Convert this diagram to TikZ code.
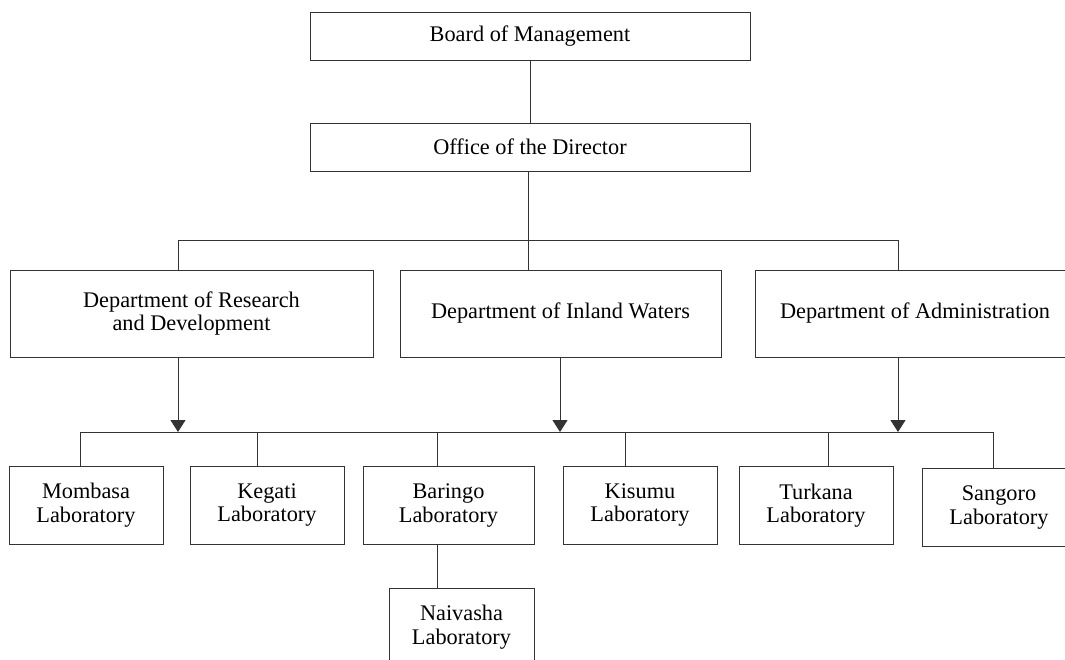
\documentclass[tikz,border=0pt]{standalone}
\usepackage{fontspec}
\setmainfont{Liberation Serif}
\usetikzlibrary{positioning,arrows.meta}

\tikzset{
    unit/.style={draw=black!80, line width=1pt, align=center, inner sep=0pt,
        font=\fontsize{22.3}{23.5}\selectfont},
    topbox/.style={unit, minimum width=440pt, minimum height=48pt},
    deptbox/.style={unit, minimum height=87pt},
    labbox/.style={unit, minimum width=154pt, minimum height=78pt},
    link/.style={draw=black!80, line width=1pt},
    feed/.style={link, -{Triangle[length=12pt,width=15pt]}}
}

\begin{document}
\begin{tikzpicture}[x=1pt,y=-1pt]
        \useasboundingbox (0,0) rectangle (1065,659);
        % management
        \node[topbox] (board) at (530,36) {Board of Management};
        \node[topbox] (office) at (530,147) {Office of the Director};
        % departments
        \node[deptbox, minimum width=363pt] (rnd) at (191.5,313.5) {Department of Research\\and Development};
        \node[deptbox, minimum width=321pt] (inland) at (560.5,313.5) {Department of Inland Waters};
        \node[deptbox, minimum width=320pt] (admin) at (915,313.5) {Department of Administration};
        % laboratories
        \node[labbox] (mombasa) at (86,505) {Mombasa\\Laboratory};
        \node[labbox] (kegati) at (267,505) {Kegati\\Laboratory};
        \node[labbox, minimum width=171pt] (baringo) at (448.5,505.5) {Baringo\\Laboratory};
        \node[labbox] (kisumu) at (640,505) {Kisumu\\Laboratory};
        \node[labbox] (turkana) at (816,505.5) {Turkana\\Laboratory};
        \node[labbox] (sangoro) at (999,507.5) {Sangoro\\Laboratory};
        \node[labbox, minimum width=145pt] (naivasha) at (461.5,627) {Naivasha\\Laboratory};
        % upper tree
        \coordinate (t1) at (178,240);
        \coordinate (t2) at (528,240);
        \coordinate (t3) at (898,240);
        \draw[link] (board) -- (office);
        \draw[link] (office.south -| t2) -- (t2);
        \draw[link] (t1) -- (t3);
        \draw[link] (t1) -- (t1 |- rnd.north);
        \draw[link] (t2) -- (t2 |- inland.north);
        \draw[link] (t3) -- (t3 |- admin.north);
        % lower bus with feeds from departments
        \coordinate (b1) at (80,432);
        \coordinate (b3) at (437,432);
        \coordinate (b6) at (993,432);
        \coordinate (f2) at (560,432);
        \draw[link] (b1) -- (b6);
        \draw[feed] (rnd.south -| t1) -- (t1 |- b1);
        \draw[feed] (inland.south -| f2) -- (f2);
        \draw[feed] (admin.south -| t3) -- (t3 |- b1);
        \foreach \lab/\xx in {mombasa/80,kegati/257,baringo/437,kisumu/625,turkana/828,sangoro/993}
            \draw[link] (\xx,432) coordinate (drop) -- (drop |- \lab.north);
        \draw[link] (baringo.south -| b3) -- (b3 |- naivasha.north);
    \end{tikzpicture}
\end{document}
